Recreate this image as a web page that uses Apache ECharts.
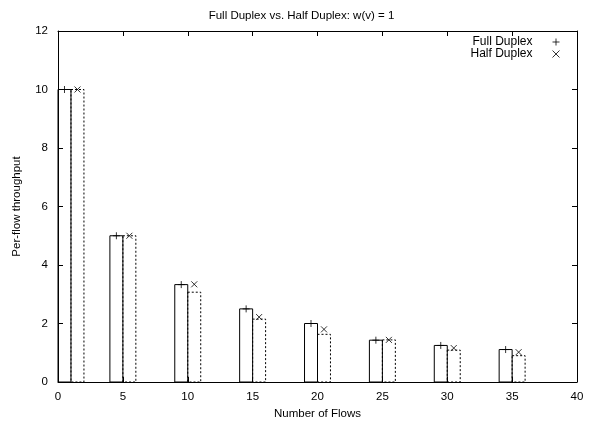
<!DOCTYPE html>
<html>
<head>
<meta charset="utf-8">
<script src="https://cdn.jsdelivr.net/npm/echarts@6/dist/echarts.min.js"></script>
<style>
  html, body { margin: 0; padding: 0; background: #fff; }
  #chart { width: 603px; height: 422px; }
</style>
</head>
<body>
<div id="chart"></div>
<script>
// number of flows on the x axis
const flows = [1, 5, 10, 15, 20, 25, 30, 35];
// bars (simulation) per flow
const fullBars = [10, 5, 3.33, 2.5, 2, 1.43, 1.25, 1.11];
const halfBars = [10, 5, 3.07, 2.15, 1.63, 1.44, 1.09, 0.9];
// point markers
const fullPoints = [10, 5, 3.33, 2.5, 2, 1.43, 1.25, 1.11];
const halfPoints = [10, 5, 3.34, 2.22, 1.8, 1.44, 1.16, 1.02];

const font = 'Liberation Sans, Arial, sans-serif';
const plusPath = 'path://M0,5 L10,5 M5,0 L5,10';
const crossPath = 'path://M0,0 L10,10 M10,0 L0,10';

function boxes(offset, dashed) {
  return function (params, api) {
    let x = api.value(0), v = api.value(1);
    let p0 = api.coord([x + offset, v]);
    let p1 = api.coord([x + offset + 1, 0]);
    return {
      type: 'rect',
      shape: { x: p0[0], y: p0[1], width: p1[0] - p0[0], height: p1[1] - p0[1] },
      style: { fill: 'none', stroke: '#000', lineWidth: 1, lineDash: dashed ? [2, 2] : null }
    };
  };
}

let chart = echarts.init(document.getElementById('chart'));

const axisCommon = {
  axisLine: { show: true, onZero: false, lineStyle: { color: '#000', width: 1 } },
  axisTick: { show: true, inside: true, length: 5, lineStyle: { color: '#000' } },
  splitLine: { show: false },
  axisLabel: { color: '#000', fontSize: 11.5, fontFamily: font }
};

let option = {
  animation: false,
  textStyle: { fontFamily: font },
  title: {
    text: 'Full Duplex vs. Half Duplex: w(v) = 1',
    left: 'center',
    top: 5,
    textStyle: { fontSize: 11.5, fontWeight: 'normal', color: '#000', fontFamily: font }
  },
  legend: {
    orient: 'vertical',
    right: 36,
    top: 31,
    align: 'right',
    itemWidth: 7,
    itemHeight: 7,
    itemGap: 0,
    itemStyle: { borderWidth: 1, color: 'none', borderColor: '#000' },
    textStyle: { fontSize: 12, lineHeight: 12, color: '#000', fontFamily: font, padding: [0, 15, 0, 0] },
    data: [
      { name: 'Full Duplex', icon: plusPath },
      { name: 'Half Duplex', icon: crossPath }
    ]
  },
  grid: { left: 58, right: 26, top: 31, bottom: 40, containLabel: false, outerBoundsMode: 'none' },
  xAxis: [
    Object.assign({}, axisCommon, {
      type: 'value', min: 0, max: 40, interval: 5,
      name: 'Number of Flows', nameLocation: 'middle', nameGap: 21,
      nameTextStyle: { fontSize: 11.5, color: '#000', fontFamily: font },
      axisLabel: Object.assign({}, axisCommon.axisLabel, { margin: 9 })
    }),
    Object.assign({}, axisCommon, {
      type: 'value', min: 0, max: 40, interval: 5, position: 'top',
      axisLabel: { show: false }
    })
  ],
  yAxis: [
    Object.assign({}, axisCommon, {
      type: 'value', min: 0, max: 12, interval: 2,
      name: 'Per-flow throughput', nameLocation: 'middle', nameGap: 35,
      nameTextStyle: { fontSize: 11.5, color: '#000', fontFamily: font },
      axisLabel: Object.assign({}, axisCommon.axisLabel, { margin: 10 })
    }),
    Object.assign({}, axisCommon, {
      type: 'value', min: 0, max: 12, interval: 2, position: 'right',
      axisLabel: { show: false }
    })
  ],
  series: [
    {
      type: 'custom',
      name: 'fullBars',
      renderItem: boxes(-1, false),
      data: flows.map((f, i) => [f, fullBars[i]]),
      z: 2
    },
    {
      type: 'custom',
      name: 'halfBars',
      renderItem: boxes(0, true),
      data: flows.map((f, i) => [f, halfBars[i]]),
      z: 1
    },
    {
      type: 'scatter',
      name: 'Full Duplex',
      symbol: plusPath,
      symbolSize: 7,
      itemStyle: { color: 'none', borderColor: '#000', borderWidth: 1 },
      data: flows.map((f, i) => [f - 0.5, fullPoints[i]]),
      z: 3
    },
    {
      type: 'scatter',
      name: 'Half Duplex',
      symbol: crossPath,
      symbolSize: 6,
      itemStyle: { color: 'none', borderColor: '#000', borderWidth: 1 },
      data: flows.map((f, i) => [f + 0.5, halfPoints[i]]),
      z: 3
    }
  ]
};

chart.setOption(option);
</script>
</body>
</html>
